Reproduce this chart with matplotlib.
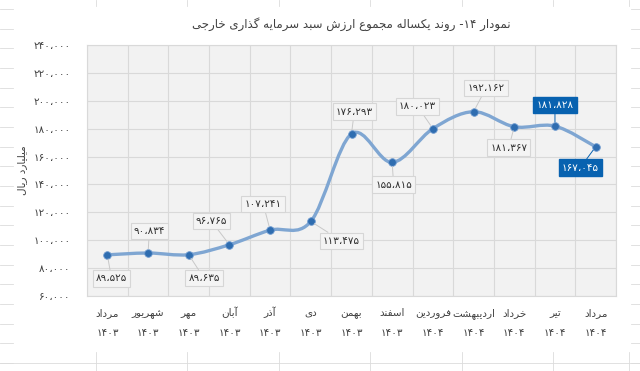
import matplotlib
matplotlib.use("Agg")
import matplotlib.pyplot as plt
import numpy as np
from matplotlib.path import Path
from matplotlib.patches import PathPatch
from matplotlib.lines import Line2D
from matplotlib.ticker import FuncFormatter, FixedLocator

# ---- data ----
months = ["مرداد", "شهریور", "مهر", "آبان", "آذر", "دی", "بهمن", "اسفند",
          "فروردین", "اردیبهشت", "خرداد", "تیر", "مرداد"]
years = ["۱۴۰۳"] * 8 + ["۱۴۰۴"] * 5
values = [89525, 90834, 89635, 96765, 107241, 113475, 176293, 155815,
          180023, 192162, 181367, 181828, 167045]
title = "نمودار ۱۴- روند یکساله مجموع ارزش سبد سرمایه گذاری خارجی"
ylabel = "میلیارد ریال"

# label offsets in points (dx, dy) and which labels are highlighted
label_off = [(3, -17), (1, 16), (11, -17), (-13, 17), (-5, 19), (22, -14),
             (2, 16), (1, -16), (-11, 16), (9, 17), (-4, -15), (0, 15), (-11, -15)]
highlight = [False] * 11 + [True, True]

# ---- minimal persian shaping (matplotlib has no complex text layout) ----
RIGHT = {"ا": "\uFE8D\uFE8E", "آ": "\uFE81\uFE82", "د": "\uFEA9\uFEAA",
         "ذ": "\uFEAB\uFEAC", "ر": "\uFEAD\uFEAE", "ز": "\uFEAF\uFEB0",
         "و": "\uFEED\uFEEE", "ژ": "\uFB8A\uFB8B"}
DUAL = {"ب": "\uFE8F\uFE90\uFE91\uFE92", "ت": "\uFE95\uFE96\uFE97\uFE98",
        "ج": "\uFE9D\uFE9E\uFE9F\uFEA0", "خ": "\uFEA5\uFEA6\uFEA7\uFEA8",
        "س": "\uFEB1\uFEB2\uFEB3\uFEB4", "ش": "\uFEB5\uFEB6\uFEB7\uFEB8",
        "ع": "\uFEC9\uFECA\uFECB\uFECC", "ف": "\uFED1\uFED2\uFED3\uFED4",
        "ل": "\uFEDD\uFEDE\uFEDF\uFEE0", "م": "\uFEE1\uFEE2\uFEE3\uFEE4",
        "ن": "\uFEE5\uFEE6\uFEE7\uFEE8", "ه": "\uFEE9\uFEEA\uFEEB\uFEEC",
        "ک": "\uFB8E\uFB8F\uFB90\uFB91", "گ": "\uFB92\uFB93\uFB94\uFB95",
        "ی": "\uFBFC\uFBFD\uFBFE\uFBFF"}
DIGITS = set("۰۱۲۳۴۵۶۷۸۹،")


def fa(text):
    out = []
    for i, c in enumerate(text):
        prev = text[i - 1] if i > 0 else ""
        nxt = text[i + 1] if i < len(text) - 1 else ""
        if c in DUAL or c in RIGHT:
            forms = DUAL.get(c) or RIGHT[c]
            jp = prev in DUAL
            jn = c in DUAL and (nxt in DUAL or nxt in RIGHT)
            if jp and jn:
                out.append(forms[3])
            elif jp:
                out.append(forms[1])
            elif jn:
                out.append(forms[2])
            else:
                out.append(forms[0])
        else:
            out.append(c)
    vis = out[::-1]
    res, run = [], []
    for c in vis:
        if c in DIGITS:
            run.append(c)
        else:
            res.extend(run[::-1]); run = []
            res.append(c)
    res.extend(run[::-1])
    return "".join(res)


def fa_num(v):
    s = f"{int(v):,}"
    return s.translate(str.maketrans("0123456789,", "۰۱۲۳۴۵۶۷۸۹،"))


plt.rcParams["font.family"] = ["DejaVu Sans"]

fig = plt.figure(figsize=(6.4, 3.71), dpi=100)
W, H = 640, 371

# faint spreadsheet cells around the chart
gc = "#dcdcdc"
for xx in [96, 187.4, 278.8, 370.2, 461.6, 553, 629]:
    fig.add_artist(Line2D([xx / W, xx / W], [1, 1 - 6 / H], color=gc, lw=0.6))
    fig.add_artist(Line2D([xx / W, xx / W], [0, 1 - 352 / H], color=gc, lw=0.6))
for k in range(19):
    yy = 9 + 19.67 * k
    fig.add_artist(Line2D([0, 13 / W], [1 - yy / H] * 2, color=gc, lw=0.6))
    fig.add_artist(Line2D([631 / W, 1], [1 - yy / H] * 2, color=gc, lw=0.6))
fig.add_artist(Line2D([0, 1], [1 - 363 / H] * 2, color=gc, lw=0.6))

ax = fig.add_axes([87 / W, 1 - 296 / H, (616 - 87) / W, (296 - 45) / H])
ax.set_facecolor("#f2f2f2")
x = np.arange(len(values))

ax.set_xlim(-0.5, len(values) - 0.5)
ax.set_ylim(60000, 240000)
ax.set_yticks(np.arange(60000, 240001, 20000))
ax.yaxis.set_major_formatter(FuncFormatter(lambda v, p: fa_num(v)))
ax.set_xticks(x)
ax.set_xticklabels([])
ax.xaxis.set_minor_locator(FixedLocator(np.arange(-0.5, len(values), 1)))
ax.tick_params(axis="both", which="both", length=0, labelsize=7.5,
               labelcolor="#404040")
ax.tick_params(axis="y", pad=12)
ax.grid(axis="y", color="#d9d9d9", lw=0.8)
ax.grid(axis="x", which="minor", color="#d9d9d9", lw=0.8)
ax.set_axisbelow(True)
for s in ax.spines.values():
    s.set_color("#d9d9d9")
    s.set_linewidth(0.8)

# category labels: month on one row, year on the next
tr = ax.get_xaxis_transform()
for i in x:
    ax.text(i, -20 / 251, fa(months[i]), transform=tr, ha="center", va="baseline",
            fontsize=7.5, color="#404040")
    ax.text(i, -40 / 251, fa(years[i]), transform=tr, ha="center", va="baseline",
            fontsize=7.5, color="#404040")

# smoothed line (excel style bezier through the points)
y = np.array(values, dtype=float)
verts = [(x[0], y[0])]
codes = [Path.MOVETO]
for i in range(len(x) - 1):
    p0 = np.array([x[max(i - 1, 0)], y[max(i - 1, 0)]])
    p1 = np.array([x[i], y[i]])
    p2 = np.array([x[i + 1], y[i + 1]])
    p3 = np.array([x[min(i + 2, len(x) - 1)], y[min(i + 2, len(x) - 1)]])
    c1 = p1 + (p2 - p0) / 6
    c2 = p2 - (p3 - p1) / 6
    verts += [tuple(c1), tuple(c2), tuple(p2)]
    codes += [Path.CURVE4] * 3
ax.add_patch(PathPatch(Path(verts, codes), facecolor="none",
                       edgecolor="#7fa6d2", lw=2.4, capstyle="round", zorder=3))
ax.plot(x, y, "o", ms=5.5, color="#2f6db0", mec="#6f9bd0", mew=0.6, zorder=4)

for i, v in enumerate(values):
    if highlight[i]:
        box = dict(boxstyle="square,pad=0.3", fc="#0862b0", ec="#0862b0")
        tc, lc = "white", "#0862b0"
    else:
        box = dict(boxstyle="square,pad=0.3", fc="#f4f4f4", ec="#d6d6d6", lw=0.8)
        tc, lc = "#303030", "#c8c8c8"
    ax.annotate(fa_num(v), (x[i], v), xytext=label_off[i], textcoords="offset points",
                ha="center", va="center", fontsize=7.5, color=tc, bbox=box,
                arrowprops=dict(arrowstyle="-", color=lc, lw=0.7, shrinkA=0, shrinkB=3),
                zorder=5)

fig.text(351 / W, 1 - 24 / H, fa(title), ha="center", va="center",
         fontsize=8.5, color="#404040")
fig.text(22 / W, 1 - 170 / H, fa(ylabel), ha="center", va="center",
         rotation=90, fontsize=7.5, color="#404040")

fig.savefig("out.png", dpi=100)
